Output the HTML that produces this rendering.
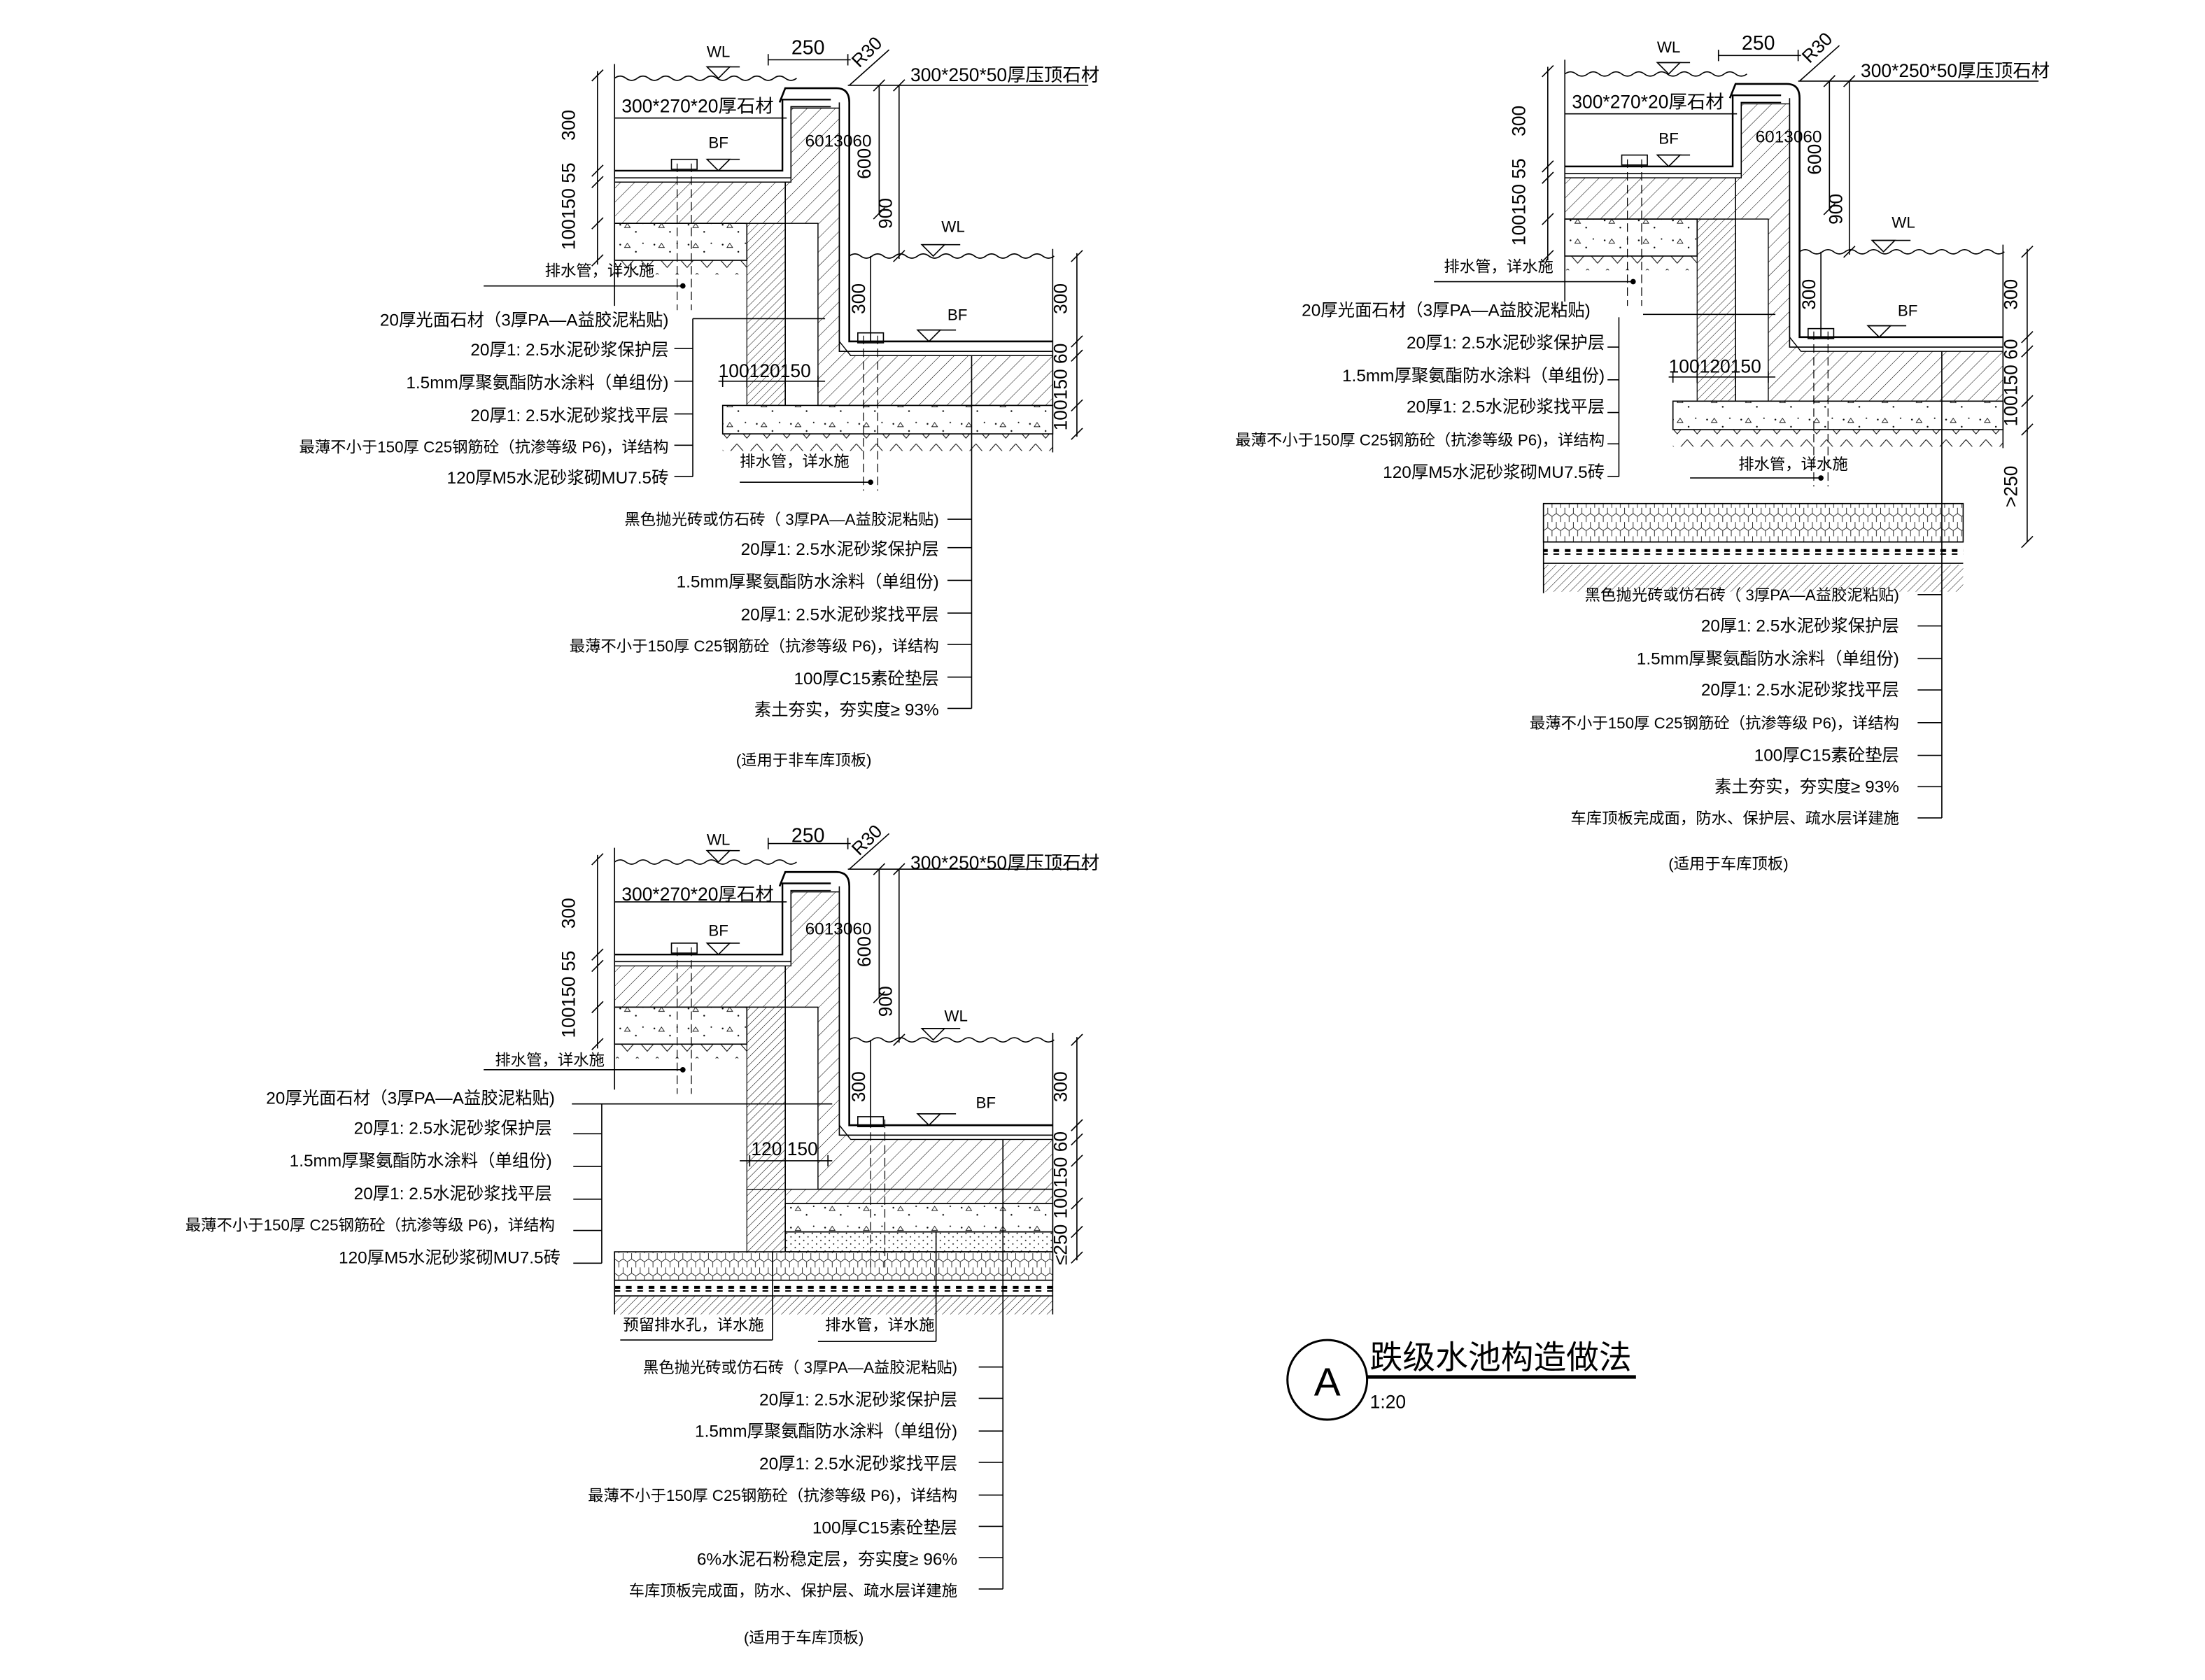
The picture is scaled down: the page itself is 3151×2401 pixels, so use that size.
<!DOCTYPE html>
<html><head><meta charset="utf-8"><style>
html,body{margin:0;padding:0;background:#fff}
svg{display:block}
text{font-family:"Liberation Sans","Noto Sans CJK SC",sans-serif;fill:#000;stroke:none}
</style></head><body>
<svg width="3151" height="2401" viewBox="0 0 1550 1181" preserveAspectRatio="none" xmlns="http://www.w3.org/2000/svg">
<defs>
<pattern id="h" patternUnits="userSpaceOnUse" width="7" height="7" patternTransform="rotate(45)"><line x1="0" y1="0" x2="0" y2="7" stroke="#000" stroke-width="0.5"/></pattern>
<pattern id="h2" patternUnits="userSpaceOnUse" width="4" height="4" patternTransform="rotate(45)"><line x1="0" y1="0" x2="0" y2="4" stroke="#000" stroke-width="0.5"/></pattern>
<pattern id="c" patternUnits="userSpaceOnUse" width="24" height="14"><circle cx="4" cy="4" r="0.6" fill="#000"/><circle cx="15" cy="9" r="0.6" fill="#000"/><path d="M9,3 l2,3 h-4z" fill="none" stroke="#000" stroke-width="0.4"/><circle cx="20" cy="3" r="0.5" fill="#000"/></pattern>
<pattern id="sd" patternUnits="userSpaceOnUse" width="6" height="5"><circle cx="1" cy="1" r="0.45" fill="#000"/><circle cx="4" cy="3.5" r="0.45" fill="#000"/></pattern>
<pattern id="s" patternUnits="userSpaceOnUse" width="14" height="12"><path d="M0,0 L7,8 L14,0" fill="none" stroke="#000" stroke-width="0.5"/></pattern>
<pattern id="hx" patternUnits="userSpaceOnUse" width="6" height="10"><path d="M0,0 L3,-2 L6,0 V4 L3,6 L0,4Z M3,6 V10" fill="none" stroke="#000" stroke-width="0.4"/></pattern>
<pattern id="dsh" patternUnits="userSpaceOnUse" width="8" height="4"><rect x="0" y="0" width="4" height="3" fill="#000"/></pattern>
<g id="top" stroke="#000" fill="none" stroke-width="0.8">
 <line x1="432" y1="45" x2="432" y2="215"/>
 <path d="M432,55 q4,-3 8,0 t8,0 t8,0 t8,0 t8,0 t8,0 t8,0 t8,0 t8,0 t8,0 t8,0 t8,0 t8,0 t8,0 t8,0 t8,0"/>
 <path fill="url(#h)" stroke-width="0.7" d="M432,128 H556 V76 H590 V240 L598,250 H740 V285 H575 V157 H432 Z"/>
 <rect x="525" y="157" width="27" height="128" fill="url(#h2)" stroke-width="0.6"/>
 <line x1="552" y1="128" x2="552" y2="285"/>
 <path d="M432,120 H550 V70 H584" stroke-width="1.2"/>
 <path d="M432,125 H556 V75 H584"/>
 <path d="M548,72 L552,62 H588 Q597,62 597,72 V240 H740" stroke-width="1.3"/>
 <path d="M590,72 V247 H740"/>
 <rect x="432" y="157" width="93" height="26" fill="url(#c)"/>
 <rect x="432" y="183" width="93" height="10" fill="url(#s)" stroke="none"/>
 <path d="M597,180 q4,-3 8,0 t8,0 t8,0 t8,0 t8,0 t8,0 t8,0 t8,0 t8,0 t8,0 t8,0 t8,0 t8,0 t8,0 t8,0 t8,0 t8,0 t8,0"/>
 <line x1="740" y1="175" x2="740" y2="285"/>
 <path d="M476,115 V218 M486,115 V218" stroke-dasharray="6,3" stroke-width="0.6"/>
 <rect x="472" y="112" width="18" height="7"/>
 <rect x="603" y="234" width="18" height="7"/>
 <line x1="340" y1="201" x2="480" y2="201"/><circle cx="480" cy="201" r="1.5" fill="#000"/>
 <line x1="420" y1="50" x2="420" y2="186"/>
 <path d="M416,57 l8,-8 M416,124 l8,-8 M416,132 l8,-8 M416,161 l8,-8 M416,187 l8,-8"/>
 <line x1="618" y1="60" x2="618" y2="150"/><path d="M614,64 l8,-8 M614,154 l8,-8"/>
 <line x1="632" y1="60" x2="632" y2="182"/><path d="M628,64 l8,-8 M628,184 l8,-8"/>
 <line x1="612" y1="180" x2="612" y2="240"/>
 <line x1="757" y1="178" x2="757" y2="250"/>
 <path d="M753,184 l8,-8 M753,244 l8,-8 M753,254 l8,-8"/>
 <line x1="540" y1="42" x2="598" y2="42"/><path d="M540,38 v8 M596,38 v8"/>
 <line x1="596" y1="60" x2="765" y2="60"/><line x1="597" y1="60" x2="625" y2="35"/>
 <line x1="432" y1="83" x2="553" y2="83"/>
 <path d="M497,47 L513,47 L505,55Z M497,112 L513,112 L505,120Z M648,172 L664,172 L656,180Z M645,232 L661,232 L653,240Z"/>
 <path d="M497,47 H520 M497,112 H520 M648,172 H675 M645,232 H672"/>
</g>
<g id="low12" stroke="#000" fill="none" stroke-width="0.8">
 <rect x="508" y="285" width="232" height="20" fill="url(#c)"/>
 <rect x="508" y="305" width="232" height="12" fill="url(#s)" stroke="none"/>
 <line x1="740" y1="285" x2="740" y2="318"/>
 <path d="M607,236 V345 M617,236 V345" stroke-dasharray="6,3" stroke-width="0.6"/>
 <line x1="520" y1="339" x2="612" y2="339"/><circle cx="612" cy="339" r="1.5" fill="#000"/>
 <line x1="757" y1="250" x2="757" y2="307"/>
 <path d="M753,289 l8,-8 M753,309 l8,-8"/>
 <line x1="505" y1="268" x2="580" y2="268"/><path d="M508,264 v8 M525,264 v8 M552,264 v8 M575,264 v8"/>
 <line x1="487" y1="224" x2="580" y2="224"/>
</g>
</defs>

<!-- Drawing 1 -->
<use href="#top"/><use href="#low12"/>
<g stroke="#000" stroke-width="0.8" fill="none">
 <line x1="487" y1="224" x2="487" y2="335"/>
 <path d="M474,245 H487 M474,268 H487 M474,291 H487 M474,313 H487 M474,335 H487"/>
 <line x1="683" y1="250" x2="683" y2="498"/>
 <path d="M666,365 H683 M666,385 H683 M666,408 H683 M666,431 H683 M666,453 H683 M666,476 H683 M666,498 H683"/>
</g>
<g font-size="12">
<text x="505" y="40" text-anchor="middle" font-size="11">WL</text>
<text x="568" y="38" text-anchor="middle" font-size="14">250</text>
<text x="604" y="48" font-size="13" transform="rotate(-45 604 48)">R30</text>
<text x="640" y="57" font-size="13">300*250*50厚压顶石材</text>
<text x="437" y="79" font-size="13">300*270*20厚石材</text>
<text x="505" y="104" text-anchor="middle" font-size="11">BF</text>
<text x="566" y="103" font-size="12">6013060</text>
<text x="670" y="163" text-anchor="middle" font-size="11">WL</text>
<text x="673" y="225" text-anchor="middle" font-size="11">BF</text>
<text x="505" y="265" font-size="13">100120150</text>
<text x="404" y="88" font-size="13" text-anchor="middle" transform="rotate(-90 404 88)">300</text>
<text x="404" y="145" font-size="13" text-anchor="middle" transform="rotate(-90 404 145)">100150 55</text>
<text x="612" y="115" font-size="13" text-anchor="middle" transform="rotate(-90 612 115)">600</text>
<text x="627" y="150" font-size="13" text-anchor="middle" transform="rotate(-90 627 150)">900</text>
<text x="608" y="210" font-size="13" text-anchor="middle" transform="rotate(-90 608 210)">300</text>
<text x="750" y="210" font-size="13" text-anchor="middle" transform="rotate(-90 750 210)">300</text>
<text x="750" y="272" font-size="13" text-anchor="middle" transform="rotate(-90 750 272)">100150 60</text>
<text x="383" y="194" font-size="11">排水管，详水施</text>
<text x="520" y="328" font-size="11">排水管，详水施</text>
<g text-anchor="end">
<text x="470" y="229">20厚光面石材（3厚PA—A益胶泥粘贴)</text>
<text x="470" y="250">20厚1: 2.5水泥砂浆保护层</text>
<text x="470" y="273">1.5mm厚聚氨酯防水涂料（单组份)</text>
<text x="470" y="296">20厚1: 2.5水泥砂浆找平层</text>
<text x="470" y="318" font-size="11">最薄不小于150厚 C25钢筋砼（抗渗等级 P6)，详结构</text>
<text x="470" y="340">120厚M5水泥砂浆砌MU7.5砖</text>
<text x="660" y="369" font-size="11">黑色抛光砖或仿石砖（ 3厚PA—A益胶泥粘贴)</text>
<text x="660" y="390">20厚1: 2.5水泥砂浆保护层</text>
<text x="660" y="413">1.5mm厚聚氨酯防水涂料（单组份)</text>
<text x="660" y="436">20厚1: 2.5水泥砂浆找平层</text>
<text x="660" y="458" font-size="11">最薄不小于150厚 C25钢筋砼（抗渗等级 P6)，详结构</text>
<text x="660" y="481">100厚C15素砼垫层</text>
<text x="660" y="503">素土夯实，夯实度≥ 93%</text>
</g>
<text x="565" y="538" text-anchor="middle" font-size="11">(适用于非车库顶板)</text>
</g>

<!-- Drawing 2 -->
<g transform="translate(668,-3)">
<use href="#top"/><use href="#low12"/>
<g stroke="#000" stroke-width="0.8" fill="none">
 <rect x="417" y="357" width="295" height="27" fill="url(#hx)"/>
 <rect x="417" y="389" width="295" height="4" fill="url(#dsh)" stroke="none"/>
 <line x1="417" y1="384" x2="712" y2="384"/><line x1="417" y1="399" x2="712" y2="399"/>
 <rect x="417" y="400" width="295" height="19" fill="url(#h2)" stroke="none"/>
 <line x1="417" y1="357" x2="417" y2="420"/>
 <line x1="757" y1="305" x2="757" y2="384"/><path d="M753,388 l8,-8"/>
 <line x1="470" y1="226" x2="470" y2="338"/>
 <path d="M462,247 H470 M462,270 H470 M462,293 H470 M462,315 H470 M462,338 H470"/>
 <line x1="697" y1="250" x2="697" y2="578"/>
 <path d="M680,421 H697 M680,443 H697 M680,466 H697 M680,488 H697 M680,511 H697 M680,534 H697 M680,556 H697 M680,578 H697"/>
</g>
<text x="750" y="345" font-size="13" text-anchor="middle" transform="rotate(-90 750 345)">&gt;250</text>
</g>
<g font-size="12">
<text x="1173" y="37" text-anchor="middle" font-size="11">WL</text>
<text x="1236" y="35" text-anchor="middle" font-size="14">250</text>
<text x="1272" y="45" font-size="13" transform="rotate(-45 1272 45)">R30</text>
<text x="1308" y="54" font-size="13">300*250*50厚压顶石材</text>
<text x="1105" y="76" font-size="13">300*270*20厚石材</text>
<text x="1173" y="101" text-anchor="middle" font-size="11">BF</text>
<text x="1234" y="100">6013060</text>
<text x="1338" y="160" text-anchor="middle" font-size="11">WL</text>
<text x="1341" y="222" text-anchor="middle" font-size="11">BF</text>
<text x="1173" y="262" font-size="13">100120150</text>
<text x="1072" y="85" font-size="13" text-anchor="middle" transform="rotate(-90 1072 85)">300</text>
<text x="1072" y="142" font-size="13" text-anchor="middle" transform="rotate(-90 1072 142)">100150 55</text>
<text x="1280" y="112" font-size="13" text-anchor="middle" transform="rotate(-90 1280 112)">600</text>
<text x="1295" y="147" font-size="13" text-anchor="middle" transform="rotate(-90 1295 147)">900</text>
<text x="1276" y="207" font-size="13" text-anchor="middle" transform="rotate(-90 1276 207)">300</text>
<text x="1418" y="207" font-size="13" text-anchor="middle" transform="rotate(-90 1418 207)">300</text>
<text x="1418" y="269" font-size="13" text-anchor="middle" transform="rotate(-90 1418 269)">100150 60</text>
<text x="1015" y="191" font-size="11">排水管，详水施</text>
<text x="1222" y="330" font-size="11">排水管，详水施</text>
<g text-anchor="end">
<text x="1118" y="222">20厚光面石材（3厚PA—A益胶泥粘贴)</text>
<text x="1128" y="245">20厚1: 2.5水泥砂浆保护层</text>
<text x="1128" y="268">1.5mm厚聚氨酯防水涂料（单组份)</text>
<text x="1128" y="290">20厚1: 2.5水泥砂浆找平层</text>
<text x="1128" y="313" font-size="11">最薄不小于150厚 C25钢筋砼（抗渗等级 P6)，详结构</text>
<text x="1128" y="336">120厚M5水泥砂浆砌MU7.5砖</text>
<text x="1335" y="422" font-size="11">黑色抛光砖或仿石砖（ 3厚PA—A益胶泥粘贴)</text>
<text x="1335" y="444">20厚1: 2.5水泥砂浆保护层</text>
<text x="1335" y="467">1.5mm厚聚氨酯防水涂料（单组份)</text>
<text x="1335" y="489">20厚1: 2.5水泥砂浆找平层</text>
<text x="1335" y="512" font-size="11">最薄不小于150厚 C25钢筋砼（抗渗等级 P6)，详结构</text>
<text x="1335" y="535">100厚C15素砼垫层</text>
<text x="1335" y="557">素土夯实，夯实度≥ 93%</text>
<text x="1335" y="579" font-size="11">车库顶板完成面，防水、保护层、疏水层详建施</text>
</g>
<text x="1215" y="611" text-anchor="middle" font-size="11">(适用于车库顶板)</text>
</g>

<!-- Drawing 3 -->
<g transform="translate(0,551)">
<use href="#top"/>
<g stroke="#000" stroke-width="0.8" fill="none">
 <rect x="525" y="285" width="27" height="44" fill="url(#h2)" stroke-width="0.6"/>
 <path fill="url(#h)" stroke-width="0.7" d="M575,285 H740 V295 H552 V285Z"/>
 <rect x="552" y="295" width="188" height="20" fill="url(#c)"/>
 <rect x="552" y="315" width="188" height="14" fill="url(#sd)"/>
 <rect x="432" y="329" width="308" height="20" fill="url(#hx)"/>
 <line x1="432" y1="349" x2="740" y2="349"/><line x1="432" y1="360" x2="740" y2="360"/>
 <rect x="432" y="353" width="308" height="4" fill="url(#dsh)" stroke="none"/>
 <rect x="432" y="360" width="308" height="13" fill="url(#h2)" stroke="none"/>
 <line x1="432" y1="329" x2="432" y2="373"/>
 <line x1="740" y1="175" x2="740" y2="373"/>
 <line x1="757" y1="250" x2="757" y2="335"/>
 <path d="M753,269 l8,-8 M753,299 l8,-8 M753,319 l8,-8 M753,337 l8,-8"/>
 <line x1="520" y1="265" x2="585" y2="265"/><path d="M527,261 v8 M552,261 v8 M582,261 v8"/>
 <line x1="402" y1="225" x2="585" y2="225"/>
 <line x1="423" y1="225" x2="423" y2="337"/>
 <path d="M403,246 H423 M403,269 H423 M403,292 H423 M403,314 H423 M403,337 H423"/>
 <path d="M612,236 V340 M622,236 V340" stroke-dasharray="6,3" stroke-width="0.6"/>
 <line x1="543" y1="329" x2="543" y2="391"/><line x1="436" y1="391" x2="543" y2="391"/>
 <line x1="658" y1="315" x2="658" y2="392"/><line x1="575" y1="392" x2="658" y2="392"/>
 <line x1="705" y1="250" x2="705" y2="566"/>
 <path d="M688,410 H705 M688,432 H705 M688,455 H705 M688,477 H705 M688,500 H705 M688,522 H705 M688,544 H705 M688,566 H705"/>
</g>
</g>
<g font-size="12">
<text x="505" y="594" text-anchor="middle" font-size="11">WL</text>
<text x="568" y="592" text-anchor="middle" font-size="14">250</text>
<text x="604" y="602" font-size="13" transform="rotate(-45 604 602)">R30</text>
<text x="640" y="611" font-size="13">300*250*50厚压顶石材</text>
<text x="437" y="633" font-size="13">300*270*20厚石材</text>
<text x="505" y="658" text-anchor="middle" font-size="11">BF</text>
<text x="566" y="657">6013060</text>
<text x="672" y="718" text-anchor="middle" font-size="11">WL</text>
<text x="693" y="779" text-anchor="middle" font-size="11">BF</text>
<text x="528" y="812" font-size="13">120 150</text>
<text x="404" y="642" font-size="13" text-anchor="middle" transform="rotate(-90 404 642)">300</text>
<text x="404" y="699" font-size="13" text-anchor="middle" transform="rotate(-90 404 699)">100150 55</text>
<text x="612" y="669" font-size="13" text-anchor="middle" transform="rotate(-90 612 669)">600</text>
<text x="627" y="704" font-size="13" text-anchor="middle" transform="rotate(-90 627 704)">900</text>
<text x="608" y="764" font-size="13" text-anchor="middle" transform="rotate(-90 608 764)">300</text>
<text x="750" y="764" font-size="13" text-anchor="middle" transform="rotate(-90 750 764)">300</text>
<text x="750" y="826" font-size="13" text-anchor="middle" transform="rotate(-90 750 826)">100150 60</text>
<text x="750" y="875" font-size="13" text-anchor="middle" transform="rotate(-90 750 875)">≤250</text>
<text x="348" y="749" font-size="11">排水管，详水施</text>
<text x="438" y="935" font-size="11">预留排水孔，详水施</text>
<text x="580" y="935" font-size="11">排水管，详水施</text>
<g text-anchor="end">
<text x="390" y="776">20厚光面石材（3厚PA—A益胶泥粘贴)</text>
<text x="388" y="797">20厚1: 2.5水泥砂浆保护层</text>
<text x="388" y="820">1.5mm厚聚氨酯防水涂料（单组份)</text>
<text x="388" y="843">20厚1: 2.5水泥砂浆找平层</text>
<text x="390" y="865" font-size="11">最薄不小于150厚 C25钢筋砼（抗渗等级 P6)，详结构</text>
<text x="394" y="888">120厚M5水泥砂浆砌MU7.5砖</text>
<text x="673" y="965" font-size="11">黑色抛光砖或仿石砖（ 3厚PA—A益胶泥粘贴)</text>
<text x="673" y="988">20厚1: 2.5水泥砂浆保护层</text>
<text x="673" y="1010">1.5mm厚聚氨酯防水涂料（单组份)</text>
<text x="673" y="1033">20厚1: 2.5水泥砂浆找平层</text>
<text x="673" y="1055" font-size="11">最薄不小于150厚 C25钢筋砼（抗渗等级 P6)，详结构</text>
<text x="673" y="1078">100厚C15素砼垫层</text>
<text x="673" y="1100">6%水泥石粉稳定层，夯实度≥ 96%</text>
<text x="673" y="1122" font-size="11">车库顶板完成面，防水、保护层、疏水层详建施</text>
</g>
<text x="565" y="1155" text-anchor="middle" font-size="11">(适用于车库顶板)</text>
</g>

<!-- Title -->
<circle cx="933" cy="970" r="28" fill="none" stroke="#000" stroke-width="1.5"/>
<text x="933" y="981" text-anchor="middle" font-size="28">A</text>
<line x1="961" y1="968" x2="1150" y2="968" stroke="#000" stroke-width="2.5"/>
<text x="963" y="962" font-size="23">跌级水池构造做法</text>
<text x="963" y="990" font-size="13">1:20</text>
</svg>
</body></html>
